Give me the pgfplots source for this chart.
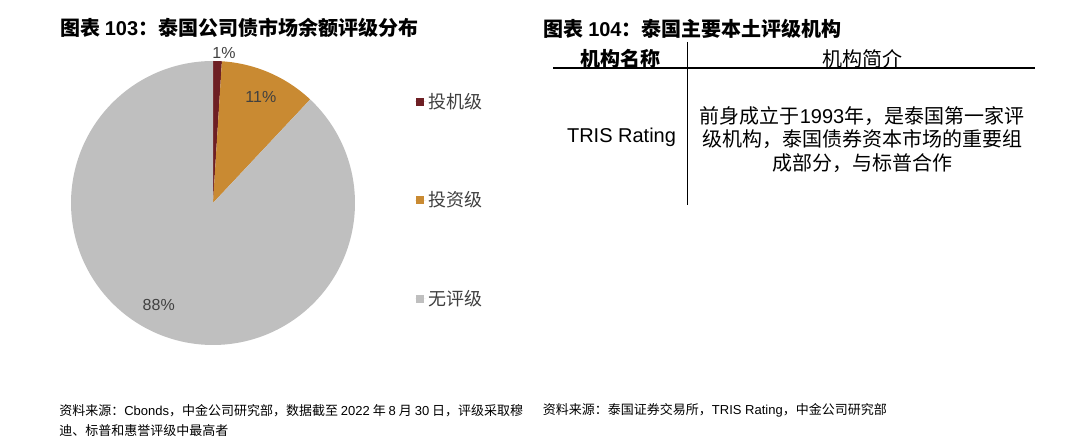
\documentclass[border=0pt]{standalone}
\usepackage{pgfplots}
\pgfplotsset{compat=1.18}
\usepackage{pgfplotstable}
\usepackage{fontspec}
\setmainfont{Noto Sans CJK SC}
\newfontfamily\lat{Liberation Sans}

\definecolor{cRed}{HTML}{6E1F24}
\definecolor{cOrange}{HTML}{C98A32}
\definecolor{cGrey}{HTML}{BFBFBF}
\definecolor{txt}{HTML}{404040}

% shares of outstanding Thai corporate bonds by rating (%)
\pgfplotstableread{
share
1
11
88
}\piedata
\pgfplotstablegetelem{0}{share}\of\piedata \let\shA\pgfplotsretval
\pgfplotstablegetelem{1}{share}\of\piedata \let\shB\pgfplotsretval
\pgfplotstablegetelem{2}{share}\of\piedata \let\shC\pgfplotsretval
\pgfmathsetmacro\aA{90-3.6*\shA}
\pgfmathsetmacro\aB{\aA-3.6*\shB}
\pgfmathsetmacro\aC{\aB-3.6*\shC}

\begin{document}%
\begin{tikzpicture}
\useasboundingbox (0pt,0pt) rectangle (810pt,-330.75pt);
\begin{axis}[
  at={(159.75pt,-152.25pt)}, anchor=center,
  scale only axis, width=213pt, height=213pt,
  xmin=-1, xmax=1, ymin=-1, ymax=1,
  hide axis, clip=false,
  legend cell align=left,
  legend style={draw=none, fill=none, at={(1.211,0.51)}, anchor=west,
    row sep=57pt, inner sep=0pt,
    font=\fontsize{13.5}{16}\selectfont, text=txt},
  legend image code/.code={\fill[#1] (0.5pt,-3pt) rectangle (6.5pt,3pt); \path (0pt,0pt) -- (8pt,0pt);},
]
\addplot[fill=cRed, draw=none, domain=\aA:90, samples=6, variable=\t]
  ({cos(\t)},{sin(\t)}) -- (axis cs:0,0) -- cycle;
\addlegendentry{投机级}
\addplot[fill=cOrange, draw=none, domain=\aB:\aA, samples=30, variable=\t]
  ({cos(\t)},{sin(\t)}) -- (axis cs:0,0) -- cycle;
\addlegendentry{投资级}
\addplot[fill=cGrey, draw=none, domain=\aC:\aB, samples=200, variable=\t]
  ({cos(\t)},{sin(\t)}) -- (axis cs:0,0) -- cycle;
\addlegendentry{无评级}
\node[text=txt, font=\lat\fontsize{12}{14}\selectfont] at (axis cs:0.077,1.054) {1\%};
\node[text=txt, font=\lat\fontsize{12}{14}\selectfont] at (axis cs:0.337,0.744) {11\%};
\node[text=txt, font=\lat\fontsize{12}{14}\selectfont] at (axis cs:-0.382,-0.718) {88\%};
\end{axis}
\begin{scope}[x=0.75pt,y=-0.75pt, every node/.style={inner sep=0pt}]
% titles
\node[anchor=west, font=\bfseries\fontsize{15}{18}\selectfont, text=black] at (60,28.3)
  {图表 {\lat\bfseries 103}：泰国公司债市场余额评级分布};
\node[anchor=west, font=\bfseries\fontsize{15}{18}\selectfont, text=black] at (543.4,28.5)
  {图表 {\lat\bfseries 104}：泰国主要本土评级机构};
% table
\draw[line width=1.5pt] (553,67.7) -- (1035,67.7);
\draw[line width=1.1pt] (687.5,42) -- (687.5,205);
\node[font=\bfseries\fontsize{15}{18}\selectfont] at (620.5,58.7) {机构名称};
\node[font=\fontsize{15}{18}\selectfont] at (862,58.7) {机构简介};
\node[font=\lat\fontsize{15}{18}\selectfont] at (621.5,137.5) {TRIS Rating};
\node[font=\fontsize{15}{18}\selectfont] at (862,115.7) {前身成立于{\lat 1993}年，是泰国第一家评};
\node[font=\fontsize{15}{18}\selectfont] at (862,139) {级机构，泰国债券资本市场的重要组};
\node[font=\fontsize{15}{18}\selectfont] at (862,162.7) {成部分，与标普合作};
% sources
\node[anchor=west, font=\fontsize{9.75}{12}\selectfont] at (59,410.7)
  {资料来源：{\lat Cbonds}，中金公司研究部，数据截至 {\lat 2022} 年 {\lat 8} 月 {\lat 30} 日，评级采取穆};
\node[anchor=west, font=\fontsize{9.75}{12}\selectfont] at (59,430.3)
  {迪、标普和惠誉评级中最高者};
\node[anchor=west, font=\fontsize{9.75}{12}\selectfont] at (542.7,410.7)
  {资料来源：泰国证券交易所，{\lat TRIS Rating}，中金公司研究部};
\end{scope}
\end{tikzpicture}%
\end{document}
